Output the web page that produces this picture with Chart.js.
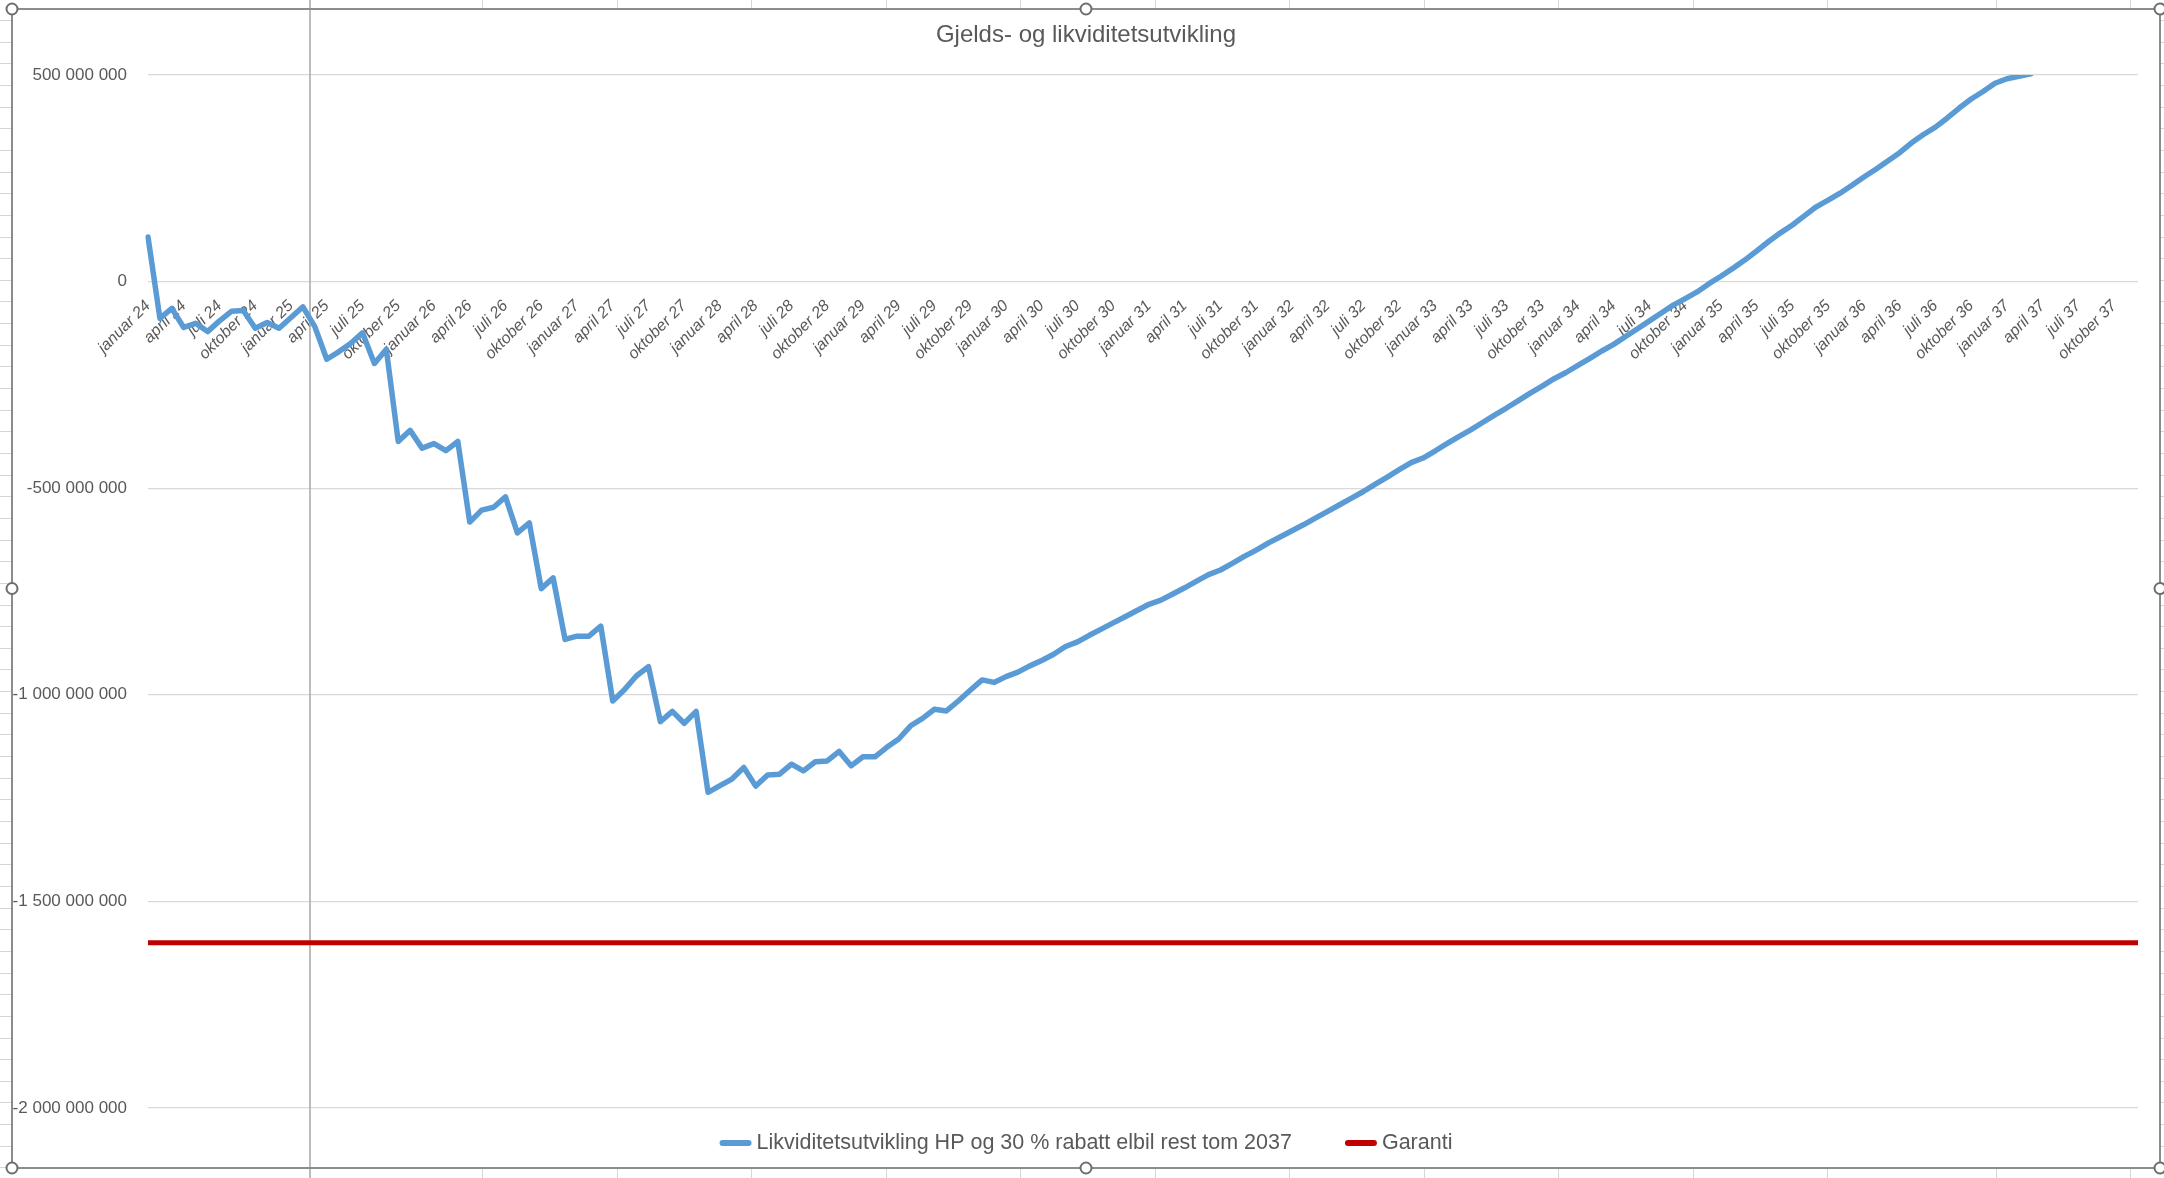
<!DOCTYPE html>
<html lang="no">
<head>
<meta charset="utf-8">
<title>Gjelds- og likviditetsutvikling</title>
<script src="https://cdn.jsdelivr.net/npm/chart.js@4.4.1/dist/chart.umd.min.js"></script>
<style>
    html, body { margin: 0; padding: 0; background: #ffffff; overflow: hidden; }
    canvas { display: block; }
</style>
</head>
<body>
<canvas id="chart" width="2164" height="1178"></canvas>
<script>
// Kategorier: måned + år (jan 2024 - des 2037)
const monthNames = ['januar', 'februar', 'mars', 'april', 'mai', 'juni', 'juli',
    'august', 'september', 'oktober', 'november', 'desember'];
const years = ['24', '25', '26', '27', '28', '29', '30', '31', '32', '33', '34', '35', '36', '37'];

// Likviditetsutvikling, millioner kr (lest av figuren)
const likviditet = [
    108, -89, -65, -111, -101, -121, -95, -72, -70, -113, -99, -113,              // 2024
    -87, -61, -109, -188, -170, -150, -124, -198, -164, -387, -360, -403,         // 2025
    -392, -409, -387, -582, -553, -546, -521, -608, -584, -743, -717, -866,       // 2026
    -858, -858, -834, -1015, -987, -954, -932, -1065, -1040, -1069, -1040, -1236, // 2027
    -1220, -1204, -1176, -1221, -1194, -1192, -1168, -1184, -1162, -1160, -1137, -1172, // 2028
    -1150, -1150, -1127, -1107, -1075, -1057, -1035, -1039, -1015, -989, -964, -970,   // 2029
    -956, -945, -930, -917, -902, -883, -872, -856, -841, -826, -811, -796,       // 2030
    -781, -771, -756, -741, -725, -709, -698, -682, -665, -650, -633, -618,       // 2031
    -603, -588, -572, -556, -540, -524, -508, -490, -473, -455, -438, -427,       // 2032
    -410, -392, -375, -359, -341, -323, -306, -288, -270, -253, -235, -220,       // 2033
    -203, -186, -168, -152, -133, -114, -95, -76, -57, -41, -25, -5,              // 2034
    13, 32, 52, 74, 97, 118, 137, 159, 181, 197, 214, 233,                        // 2035
    253, 272, 292, 312, 336, 356, 374, 396, 420, 442, 460, 480,                   // 2036
    491, 497, 503                                                                 // 2037
];

// Garantinivå, millioner kr (konstant)
const garantiNivaa = -1600;

// Verdiakse
const yTicks = [500, 0, -500, -1000, -1500, -2000];

const labels = [];
years.forEach(y => monthNames.forEach(m => labels.push(m + ' ' + y)));
const garanti = labels.map(() => garantiNivaa);

const TITLE = 'Gjelds- og likviditetsutvikling';
const FONT = '"Liberation Sans", Arial, sans-serif';
const TEXT_COLOR = '#595959';

/**
 * Formaterer millioner som hele kroner med mellomrom som tusenskille
 */
function formatAmount(mill) {
    const v = Math.round(mill * 1000000);
    const s = Math.abs(v).toString().replace(/\B(?=(\d{3})+(?!\d))/g, ' ');
    return (v < 0 ? '-' : '') + s;
}

// Excel-ramme, håndtak og regnearkrutenett rundt diagrammet
const FRAME = { left: 12, top: 9, right: 2160, bottom: 1168 };
const excelFrame = {
    id: 'excelFrame',
    beforeDraw(chart) {
        const ctx = chart.ctx;
        const W = chart.width, H = chart.height;
        ctx.save();
        ctx.fillStyle = '#ffffff';
        ctx.fillRect(0, 0, W, H);
        ctx.strokeStyle = '#d6d6d6';
        ctx.lineWidth = 1;
        for (let y = 20; y < H; y += 21.65) {
            ctx.beginPath();
            ctx.moveTo(0, Math.round(y) + 0.5);
            ctx.lineTo(W, Math.round(y) + 0.5);
            ctx.stroke();
        }
        const cols = [];
        for (let x = 482; x < 1900; x += 134.5) cols.push(x);
        cols.push(1996, 2130);
        cols.forEach(x => {
            ctx.beginPath();
            ctx.moveTo(Math.round(x) + 0.5, 0);
            ctx.lineTo(Math.round(x) + 0.5, H);
            ctx.stroke();
        });
        ctx.fillStyle = '#ffffff';
        ctx.fillRect(FRAME.left, FRAME.top, FRAME.right - FRAME.left, FRAME.bottom - FRAME.top);

        // diagramtittel, sentrert i rammen
        ctx.font = '24px ' + FONT;
        ctx.fillStyle = TEXT_COLOR;
        ctx.textAlign = 'center';
        ctx.textBaseline = 'middle';
        ctx.fillText(TITLE, (FRAME.left + FRAME.right) / 2, 35);
        ctx.restore();
    },
    beforeDatasetsDraw(chart) {
        // låst kolonnelinje som går gjennom diagrammet
        const ctx = chart.ctx;
        ctx.save();
        ctx.strokeStyle = '#a6a6a6';
        ctx.lineWidth = 1.5;
        ctx.beginPath();
        ctx.moveTo(310, 0);
        ctx.lineTo(310, chart.height);
        ctx.stroke();
        ctx.restore();
    },
    afterDraw(chart) {
        const ctx = chart.ctx;
        ctx.save();
        ctx.strokeStyle = '#8c8c8c';
        ctx.lineWidth = 2;
        ctx.strokeRect(FRAME.left, FRAME.top, FRAME.right - FRAME.left, FRAME.bottom - FRAME.top);
        const midX = (FRAME.left + FRAME.right) / 2;
        const midY = (FRAME.top + FRAME.bottom) / 2;
        const handles = [
            [FRAME.left, FRAME.top], [midX, FRAME.top], [FRAME.right, FRAME.top],
            [FRAME.left, midY], [FRAME.right, midY],
            [FRAME.left, FRAME.bottom], [midX, FRAME.bottom], [FRAME.right, FRAME.bottom]
        ];
        ctx.fillStyle = '#ffffff';
        ctx.strokeStyle = '#6e6e6e';
        handles.forEach(([x, y]) => {
            ctx.beginPath();
            ctx.arc(x, y, 5.5, 0, Math.PI * 2);
            ctx.fill();
            ctx.stroke();
        });
        ctx.restore();
    }
};

// Forklaring nederst, tegnet som i Excel
const excelLegend = {
    id: 'excelLegend',
    afterDraw(chart) {
        const ctx = chart.ctx;
        const y = 1143;
        const sample = 32, gapText = 5, gapItem = 53;
        ctx.save();
        ctx.font = '21.5px ' + FONT;
        const items = chart.data.datasets.map(ds => ({
            text: ds.label,
            color: ds.borderColor,
            w: ctx.measureText(ds.label).width
        }));
        const total = items.reduce((s, it) => s + sample + gapText + it.w, 0) + gapItem * (items.length - 1);
        let x = 1086 - total / 2;
        items.forEach(it => {
            ctx.strokeStyle = it.color;
            ctx.lineWidth = 6;
            ctx.lineCap = 'round';
            ctx.beginPath();
            ctx.moveTo(x + 3, y);
            ctx.lineTo(x + sample - 3, y);
            ctx.stroke();
            x += sample + gapText;
            ctx.fillStyle = TEXT_COLOR;
            ctx.textBaseline = 'middle';
            ctx.textAlign = 'left';
            ctx.fillText(it.text, x, y);
            x += it.w + gapItem;
        });
        ctx.restore();
    }
};

const ctx = document.getElementById('chart').getContext('2d');
const chart = new Chart(ctx, {
    type: 'line',
    data: {
        labels: labels,
        datasets: [
            {
                label: 'Likviditetsutvikling HP og 30 % rabatt elbil rest tom 2037',
                data: likviditet,
                borderColor: '#5B9BD5',
                backgroundColor: '#5B9BD5',
                borderWidth: 5.5,
                borderJoinStyle: 'round',
                borderCapStyle: 'round',
                pointRadius: 0,
                tension: 0,
                fill: false
            },
            {
                label: 'Garanti',
                data: garanti,
                borderColor: '#C00000',
                backgroundColor: '#C00000',
                borderWidth: 5,
                borderCapStyle: 'butt',
                pointRadius: 0,
                tension: 0,
                fill: false
            }
        ]
    },
    options: {
        responsive: false,
        animation: false,
        devicePixelRatio: 1,
        events: [],
        layout: {
            // plass til tittel over og forklaring under plottet
            padding: { left: 0, right: 26, top: 75, bottom: 70 }
        },
        plugins: {
            title: { display: false },
            legend: { display: false },
            tooltip: { enabled: false }
        },
        scales: {
            x: {
                position: { y: 0 },
                offset: false,
                grid: { display: false, drawTicks: false },
                border: { display: false },
                ticks: {
                    autoSkip: false,
                    minRotation: 45,
                    maxRotation: 45,
                    padding: 15,
                    color: TEXT_COLOR,
                    font: { family: FONT, size: 16, style: 'italic' },
                    callback: (value, index) => (index % 3 === 0 ? labels[index] : null)
                }
            },
            y: {
                min: -2000,
                max: 500,
                afterBuildTicks: scale => {
                    scale.ticks = yTicks.map(v => ({ value: v }));
                },
                afterFit: scale => {
                    // plottet starter ved x = 148
                    scale.width = 148;
                },
                grid: { color: '#d9d9d9', lineWidth: 1.3, drawTicks: false },
                border: { display: false },
                ticks: {
                    padding: 21,
                    color: TEXT_COLOR,
                    font: { family: FONT, size: 17 },
                    callback: value => formatAmount(value)
                }
            }
        }
    },
    plugins: [excelFrame, excelLegend]
});
</script>
</body>
</html>
